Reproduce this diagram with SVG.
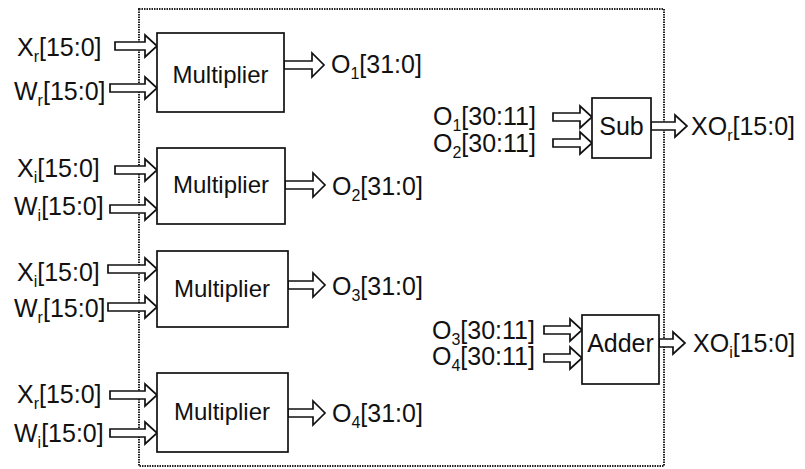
<svg xmlns="http://www.w3.org/2000/svg" width="805" height="469" viewBox="0 0 805 469">
<style>
.t{font-family:"Liberation Sans",Arial,sans-serif;font-size:25px;fill:#111}
.m{font-size:24px}
.s{font-size:16px}
.box{fill:#fff;stroke:#111;stroke-width:1.7}
.arr{fill:#fff;stroke:#111;stroke-width:1.7;stroke-linejoin:miter}
.frame{fill:none;stroke:#222;stroke-width:2;stroke-dasharray:1.5 1}
</style>
<rect width="805" height="469" fill="#fff"/>
<rect id="frame" class="frame" x="139" y="9" width="525" height="457"/>
<g id="connectors">
<path class="arr" d="M115,42 H145 V35 L157,46 L145,57 V50 H115 Z"/>
<path class="arr" d="M110,84 H145 V77 L157,88 L145,99 V92 H110 Z"/>
<path class="arr" d="M284,61 H312 V53 L324,65 L312,77 V69 H284 Z"/>
<path class="arr" d="M115,166 H145 V159 L157,170 L145,181 V174 H115 Z"/>
<path class="arr" d="M110,205 H145 V198 L157,209 L145,220 V213 H110 Z"/>
<path class="arr" d="M285,181 H313 V173 L325,185 L313,197 V189 H285 Z"/>
<path class="arr" d="M108,265 H145 V258 L157,269 L145,280 V273 H108 Z"/>
<path class="arr" d="M108,303 H145 V296 L157,307 L145,318 V311 H108 Z"/>
<path class="arr" d="M288,281 H313 V273 L325,285 L313,297 V289 H288 Z"/>
<path class="arr" d="M110,391 H145 V384 L157,395 L145,406 V399 H110 Z"/>
<path class="arr" d="M110,429 H145 V422 L157,433 L145,444 V437 H110 Z"/>
<path class="arr" d="M288,409 H313 V401 L325,413 L313,425 V417 H288 Z"/>
<path class="arr" d="M553,113 H580 V106 L592,117 L580,128 V121 H553 Z"/>
<path class="arr" d="M553,139 H580 V132 L592,143 L580,154 V147 H553 Z"/>
<path class="arr" d="M651,122 H675 V115 L687,126 L675,137 V130 H651 Z"/>
<path class="arr" d="M544,326 H570 V319 L582,330 L570,341 V334 H544 Z"/>
<path class="arr" d="M544,354 H570 V347 L582,358 L570,369 V362 H544 Z"/>
<path class="arr" d="M659,339 H673 V332 L685,343 L673,354 V347 H659 Z"/>
</g>
<g id="mult1"><rect class="box" x="157" y="33" width="127" height="79"/><text class="t m" x="220.5" y="83" text-anchor="middle">Multiplier</text></g>
<g id="mult2"><rect class="box" x="157" y="148" width="128" height="76"/><text class="t m" x="221" y="193" text-anchor="middle">Multiplier</text></g>
<g id="mult3"><rect class="box" x="157" y="251" width="131" height="76"/><text class="t m" x="222" y="297" text-anchor="middle">Multiplier</text></g>
<g id="mult4"><rect class="box" x="157" y="373" width="131" height="79"/><text class="t m" x="222" y="420" text-anchor="middle">Multiplier</text></g>
<g id="sub"><rect class="box" x="592" y="98" width="59" height="60"/><text class="t" x="621.5" y="135" text-anchor="middle">Sub</text></g>
<g id="adder"><rect class="box" x="582" y="315" width="77" height="69"/><text class="t" x="620.5" y="352" text-anchor="middle">Adder</text></g>
<g id="labels">
<text class="t" x="17" y="56">X<tspan class="s" dy="6">r</tspan><tspan dy="-6">[15:0]</tspan></text>
<text class="t" x="14" y="100">W<tspan class="s" dy="6">r</tspan><tspan dy="-6">[15:0]</tspan></text>
<text class="t" x="17" y="177">X<tspan class="s" dy="6">i</tspan><tspan dy="-6">[15:0]</tspan></text>
<text class="t" x="14" y="215">W<tspan class="s" dy="6">i</tspan><tspan dy="-6">[15:0]</tspan></text>
<text class="t" x="17" y="281">X<tspan class="s" dy="6">i</tspan><tspan dy="-6">[15:0]</tspan></text>
<text class="t" x="14" y="317">W<tspan class="s" dy="6">r</tspan><tspan dy="-6">[15:0]</tspan></text>
<text class="t" x="17" y="403">X<tspan class="s" dy="6">r</tspan><tspan dy="-6">[15:0]</tspan></text>
<text class="t" x="14" y="442">W<tspan class="s" dy="6">i</tspan><tspan dy="-6">[15:0]</tspan></text>
<text class="t" x="331" y="73">O<tspan class="s" dy="6">1</tspan><tspan dy="-6">[31:0]</tspan></text>
<text class="t" x="332" y="195">O<tspan class="s" dy="6">2</tspan><tspan dy="-6">[31:0]</tspan></text>
<text class="t" x="332" y="295">O<tspan class="s" dy="6">3</tspan><tspan dy="-6">[31:0]</tspan></text>
<text class="t" x="332" y="422">O<tspan class="s" dy="6">4</tspan><tspan dy="-6">[31:0]</tspan></text>
<text class="t" x="433" y="125">O<tspan class="s" dy="6">1</tspan><tspan dy="-6">[30:11]</tspan></text>
<text class="t" x="433" y="152">O<tspan class="s" dy="6">2</tspan><tspan dy="-6">[30:11]</tspan></text>
<text class="t" x="691" y="135">XO<tspan class="s" dy="6">r</tspan><tspan dy="-6">[15:0]</tspan></text>
<text class="t" x="432" y="339">O<tspan class="s" dy="6">3</tspan><tspan dy="-6">[30:11]</tspan></text>
<text class="t" x="432" y="365">O<tspan class="s" dy="6">4</tspan><tspan dy="-6">[30:11]</tspan></text>
<text class="t" x="693" y="352">XO<tspan class="s" dy="6">i</tspan><tspan dy="-6">[15:0]</tspan></text>
</g>
</svg>
